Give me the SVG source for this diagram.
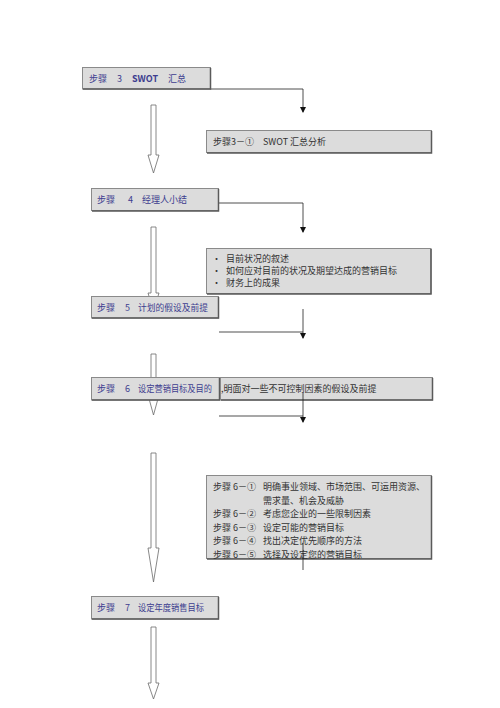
<svg xmlns="http://www.w3.org/2000/svg" width="500" height="708" viewBox="0 0 500 708">
<style>
.box{fill:#dcdcdc;stroke:#8a8a8a;stroke-width:1}
.sh{fill:none;stroke:#5a5a5a;stroke-width:1.5}
.t{font-family:"Noto Sans CJK SC","Liberation Serif",serif;font-size:9px}
.b{fill:#3d3d8f}
.k{fill:#333333}
.ha{fill:#ffffff;stroke:#6a6a6a;stroke-width:0.8}
.ln{fill:none;stroke:#222;stroke-width:0.8}
.gl{fill:none;stroke:#8a8a8a;stroke-width:1.6}
</style>
<defs>
<marker id="ah" markerWidth="6" markerHeight="6" refX="5" refY="3" orient="auto" markerUnits="userSpaceOnUse">
<path d="M0,0 L6,3 L0,6 z" fill="#111"/>
</marker>
</defs>
<rect width="500" height="708" fill="#ffffff"/>

<g id="hollow-arrows">
<polygon class="ha" points="151,105 156,105 156,155 159,155 153.5,173 148,155 151,155"/>
<polygon class="ha" points="151,227 156,227 156,293 159,293 153.5,311 148,293 151,293"/>
<polygon class="ha" points="151,354 156,354 156,395 159,395 153.5,415 148,395 151,395"/>
<polygon class="ha" points="151,453 156,453 156,548 159,548 153.5,582 148,548 151,548"/>
<polygon class="ha" points="151,627 156,627 156,683 159,683 153.5,699 148,683 151,683"/>
</g>

<g id="connectors">
<polyline class="ln" points="210,89 303,89 303,112" marker-end="url(#ah)"/>
<polyline class="ln" points="219,203 303,203 303,232" marker-end="url(#ah)"/>
<line class="gl" x1="219" y1="332" x2="303" y2="332"/>
<line class="gl" x1="219" y1="416" x2="303" y2="416"/>
</g>

<g id="step3">
<rect class="box" x="82.5" y="67.5" width="128" height="21.5"/>
<polyline class="sh" points="83,89 210.5,89 210.5,68"/>
<text class="t b" x="89" y="81.5">步骤</text>
<text class="t b" x="117" y="81.5">3</text>
<text class="t b" x="132" y="81.5" font-weight="bold" font-family="Liberation Serif,serif">SWOT</text>
<text class="t b" x="168" y="81.5">汇总</text>
</g>

<g id="step3-1">
<rect class="box" x="206.5" y="130.5" width="225" height="22"/>
<polyline class="sh" points="207,153 431.5,153 431.5,131"/>
<text class="t k" x="213" y="145">步骤</text>
<text class="t k" x="231" y="145">3－①</text>
<text class="t k" x="263" y="145" font-family="Liberation Serif,serif">SWOT</text>
<text class="t k" x="290" y="145">汇总分析</text>
</g>

<g id="step4">
<rect class="box" x="91.5" y="188.5" width="127" height="22"/>
<polyline class="sh" points="92,211 218.5,211 218.5,189"/>
<text class="t b" x="97" y="202.5">步骤</text>
<text class="t b" x="128" y="202.5">4</text>
<text class="t b" x="142" y="202.5">经理人小结</text>
</g>

<g id="summary">
<rect class="box" x="206.5" y="248.5" width="224.5" height="45"/>
<polyline class="sh" points="207,294 431,294 431,249"/>
<text class="t k" x="212" y="261.5">•</text>
<text class="t k" x="226" y="261.5">目前状况的叙述</text>
<text class="t k" x="212" y="273.5">•</text>
<text class="t k" x="226" y="273.5">如何应对目前的状况及期望达成的营销目标</text>
<text class="t k" x="212" y="285.5">•</text>
<text class="t k" x="226" y="285.5">财务上的成果</text>
</g>

<g id="step5">
<rect class="box" x="91.5" y="296.5" width="127" height="21.5"/>
<polyline class="sh" points="92,318 218.5,318 218.5,297"/>
<text class="t b" x="97" y="310.5">步骤</text>
<text class="t b" x="125" y="310.5">5</text>
<text class="t b" x="138" y="310.5" textLength="70" lengthAdjust="spacingAndGlyphs">计划的假设及前提</text>
</g>

<g id="connector-5">
<line class="ln" x1="303" y1="309" x2="303" y2="338" marker-end="url(#ah)"/>
</g>

<g id="step6">
<rect class="box" x="91.5" y="377.5" width="128" height="22.5"/>
<polyline class="sh" points="92,400 219.5,400 219.5,378"/>
<text class="t b" x="97" y="392">步骤</text>
<text class="t b" x="125" y="392">6</text>
<text class="t b" x="138" y="392" textLength="74" lengthAdjust="spacingAndGlyphs">设定营销目标及目的</text>
</g>

<g id="assumption">
<rect class="box" x="220.5" y="377.5" width="212" height="22.5"/>
<polyline class="sh" points="221,400 432.5,400 432.5,378"/>
<text class="t k" x="221" y="392">,明面对一些不可控制因素的假设及前提</text>
</g>

<g id="connector-6">
<line class="ln" x1="303" y1="393" x2="303" y2="422" marker-end="url(#ah)"/>
</g>

<g id="step6-list">
<rect class="box" x="206.5" y="475.5" width="225" height="83"/>
<polyline class="sh" points="207,559 431.5,559 431.5,476"/>
<text class="t k" x="213" y="490">步骤 6－①</text>
<text class="t k" x="263" y="490">明确事业领域、市场范围、可运用资源、</text>
<text class="t k" x="263" y="503.5">需求量、机会及威胁</text>
<text class="t k" x="213" y="517">步骤 6－②</text>
<text class="t k" x="263" y="517">考虑您企业的一些限制因素</text>
<text class="t k" x="213" y="530.5">步骤 6－③</text>
<text class="t k" x="263" y="530.5">设定可能的营销目标</text>
<text class="t k" x="213" y="544">步骤 6－④</text>
<text class="t k" x="263" y="544">找出决定优先顺序的方法</text>
<text class="t k" x="213" y="557.5">步骤 6－⑤</text>
<text class="t k" x="263" y="557.5">选择及设定您的营销目标</text>
</g>

<g id="connector-7">
<line class="ln" x1="303" y1="543" x2="303" y2="570"/>
</g>

<g id="step7">
<rect class="box" x="91.5" y="596.5" width="127" height="22.5"/>
<polyline class="sh" points="92,619 218.5,619 218.5,597"/>
<text class="t b" x="97" y="611">步骤</text>
<text class="t b" x="125" y="611">7</text>
<text class="t b" x="138" y="611" textLength="66" lengthAdjust="spacingAndGlyphs">设定年度销售目标</text>
</g>
</svg>
